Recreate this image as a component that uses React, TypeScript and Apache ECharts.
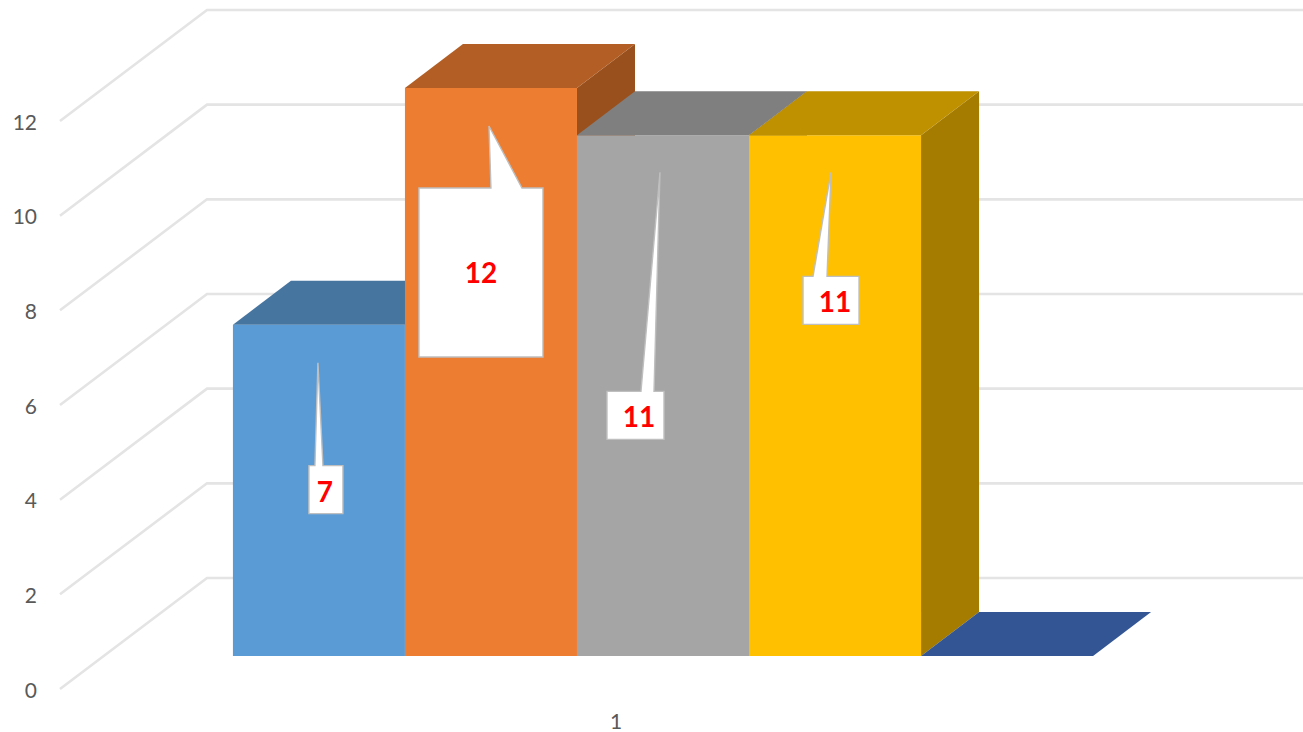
import React, { useEffect, useRef } from "react";
import * as echarts from "echarts";

const categories = ["1"];
const tickValues = [0, 2, 4, 6, 8, 10, 12];
const seriesNames = ["Series 1", "Series 2", "Series 3", "Series 4", "Series 5"];
const seriesValues = [7, 12, 11, 11, 0];
const labelledValues = [7, 12, 11, 11];

const frontColors = ["#5B9BD5", "#ED7D31", "#A5A5A5", "#FFC000", "#335593"];
const topColors = ["#4675A0", "#B25E24", "#7F7F7F", "#BF9000", "#335593"];
const sideColors = ["#3E6A90", "#9A501C", "#6E6E6E", "#A67C00", "#2B487D"];

// Layout of the pseudo-3D projection (pixels)
const GRID_LEFT = 60;
const GRID_TOP = 121;
const GRID_BOTTOM_Y = 689;
const GRID_WIDTH = 1112;
const WALL_DX = 147;
const WALL_DY = 111;
const BAR_DX = 58;
const BAR_DY = 44;
const BAR_FLOOR_DY = 33;
const BAR_CENTER_DX = 47;
const BAR_BAND_RATIO = 0.1547;
const CHART_WIDTH = 1303;

// Callout layout relative to the front-top-left corner of each bar
const calloutLayouts = [
  { box: [76, 141, 110, 189], tip: [85, 38], base: [82, 90], text: [92, 166] },
  { box: [14, 100, 138, 269], tip: [84, 38], base: [86, 117], text: [76, 184] },
  { box: [30, 256, 87, 304], tip: [83, 37], base: [64, 77], text: [62, 281] },
  { box: [54, 141, 110, 189], tip: [82, 37], base: [64, 78], text: [86, 166] },
];

function barFrame(api: any, index: number, value: number) {
  const front = api.coord([0, value]);
  const zero = api.coord([0, 0]);
  const band = api.size([1, 0])[0];
  const width = band * BAR_BAND_RATIO;
  const left = front[0] + BAR_CENTER_DX + (index - 2.5) * width;
  return { left, right: left + width, top: front[1] - BAR_FLOOR_DY, base: zero[1] - BAR_FLOOR_DY, width };
}

function renderWall(_: any, api: any) {
  const p = api.coord([0, api.value(1)]);
  return {
    type: "polyline",
    silent: true,
    shape: {
      points: [
        [GRID_LEFT, p[1]],
        [GRID_LEFT + WALL_DX, p[1] - WALL_DY],
        [CHART_WIDTH + 10, p[1] - WALL_DY],
      ],
    },
    style: { stroke: "#E4E4E4", lineWidth: 2.6, fill: "none" },
  };
}

function makeBar(index: number) {
  return (_: any, api: any) => {
    const { left, right, top, base } = barFrame(api, index, api.value(1));
    const children: any[] = [];
    if (base - top > 0.5) {
      children.push({
        type: "polygon",
        shape: { points: [[right, top], [right + BAR_DX, top - BAR_DY], [right + BAR_DX, base - BAR_DY], [right, base]] },
        style: { fill: sideColors[index] },
      });
      children.push({
        type: "rect",
        shape: { x: left, y: top, width: right - left, height: base - top },
        style: { fill: frontColors[index] },
      });
    }
    children.push({
      type: "polygon",
      shape: { points: [[left, top], [left + BAR_DX, top - BAR_DY], [right + BAR_DX, top - BAR_DY], [right, top]] },
      style: { fill: topColors[index] },
    });
    return { type: "group", silent: true, children };
  };
}

function renderCallout(params: any, api: any) {
  const i = params.dataIndex;
  const value = api.value(1);
  const { left, top } = barFrame(api, i, value);
  const c = calloutLayouts[i];
  const [x0, y0, x1, y1] = c.box;
  const pts = [
    [x0, y0],
    [c.base[0], y0],
    c.tip,
    [c.base[1], y0],
    [x1, y0],
    [x1, y1],
    [x0, y1],
  ].map(([x, y]) => [left + x, top + y]);
  return {
    type: "group",
    silent: true,
    children: [
      {
        type: "polygon",
        shape: { points: pts },
        style: { fill: "#FFFFFF", stroke: "#BFBFBF", lineWidth: 1.4 },
      },
      {
        type: "text",
        style: {
          text: String(value),
          x: left + c.text[0],
          y: top + c.text[1],
          fill: "#FF0000",
          fontSize: 28,
          fontWeight: "bold",
          fontFamily: "Lato, 'Open Sans', sans-serif",
          align: "center",
          verticalAlign: "middle",
        },
      },
    ],
  };
}

export default function App() {
  const ref = useRef<HTMLDivElement>(null);
  useEffect(() => {
    document.body.style.margin = "0";
    const chart = echarts.init(ref.current!, null, { renderer: "svg" });
    chart.setOption({
      animation: false,
      backgroundColor: "#FFFFFF",
      grid: {
        left: GRID_LEFT,
        top: GRID_TOP,
        width: GRID_WIDTH,
        height: GRID_BOTTOM_Y - GRID_TOP,
      },
      xAxis: {
        type: "category",
        data: categories,
        axisLine: { show: false },
        axisTick: { show: false },
        axisLabel: { color: "#595959", fontSize: 21, fontFamily: "Lato, sans-serif", margin: 21 },
      },
      yAxis: {
        type: "value",
        min: 0,
        max: 12,
        interval: 2,
        splitLine: { show: false },
        axisLine: { show: false },
        axisTick: { show: false },
        axisLabel: { color: "#595959", fontSize: 21, fontFamily: "Lato, sans-serif", margin: 23 },
      },
      series: [
        {
          type: "custom",
          name: "wall",
          clip: false,
          renderItem: renderWall,
          encode: { x: 0, y: 1 },
          data: tickValues.map((t) => [0, t]),
        },
        ...seriesValues.map((v, i) => ({
          type: "custom",
          name: seriesNames[i],
          clip: false,
          renderItem: makeBar(i),
          encode: { x: 0, y: 1 },
          data: [[0, v]],
        })),
        {
          type: "custom",
          name: "labels",
          clip: false,
          renderItem: renderCallout,
          encode: { x: 0, y: 1 },
          data: labelledValues.map((v) => [0, v]),
        },
      ],
    });
    return () => chart.dispose();
  }, []);
  return <div ref={ref} style={{ position: "fixed", left: 0, top: 0, width: 1303, height: 732 }} />;
}
